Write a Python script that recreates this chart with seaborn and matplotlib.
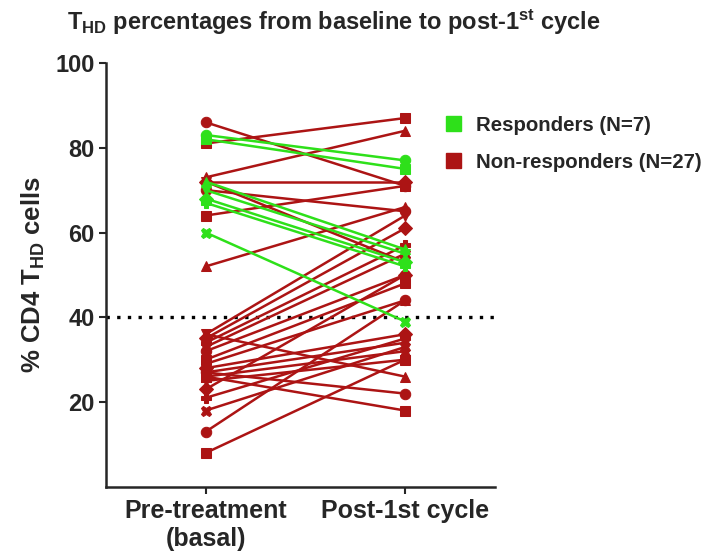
import numpy as np
import pandas as pd
import matplotlib
matplotlib.use("Agg")
import matplotlib.pyplot as plt
import seaborn as sns
from matplotlib.patches import Patch

sns.set_style("ticks")
plt.rcParams['font.family'] = ['Liberation Sans', 'DejaVu Sans']
plt.rcParams['mathtext.fontset'] = 'custom'
plt.rcParams['mathtext.rm'] = 'Liberation Sans:bold'
plt.rcParams['mathtext.it'] = 'Liberation Sans:bold'
plt.rcParams['mathtext.bf'] = 'Liberation Sans:bold'
plt.rcParams['mathtext.default'] = 'rm'

timepoints = ["Pre-treatment\n(basal)", "Post-1st cycle"]

resp_pre = [83, 82, 72, 70, 68, 67, 60]
resp_post = [77, 75, 56, 55, 53, 52, 39]

nonresp_pre = [86, 81, 73, 72, 72, 70, 64, 52, 36, 35, 34, 33, 32, 30,
               29, 28, 27, 27, 26, 26, 25, 23, 21, 18, 13, 8, 36]
nonresp_post = [71, 87, 84, 72, 53, 65, 71, 66, 64, 61, 57, 55, 50, 48,
                44, 36, 34, 22, 18, 32, 30, 50, 35, 33, 44, 30, 26]

threshold = 40
green = "#2ee01a"
red = "#ac1414"

rows = []
sid = 0
for pre, post in zip(resp_pre, resp_post):
    rows.append(dict(subject=sid, time=0, value=pre, group="Responders (N=7)"))
    rows.append(dict(subject=sid, time=1, value=post, group="Responders (N=7)"))
    sid += 1
for pre, post in zip(nonresp_pre, nonresp_post):
    rows.append(dict(subject=sid, time=0, value=pre, group="Non-responders (N=27)"))
    rows.append(dict(subject=sid, time=1, value=post, group="Non-responders (N=27)"))
    sid += 1
df = pd.DataFrame(rows)

marker_cycle = ['o', 's', '^', 'v', 'D', 'P', 'X', 'o', 's', '^', 'D', 'v']
markers = {s: marker_cycle[s % len(marker_cycle)] for s in df.subject.unique()}

fig = plt.figure(figsize=(7.06, 5.52), dpi=100)
ax = fig.add_axes([0.150, 0.118, 0.551, 0.768])

ax.axhline(threshold, color="black", linestyle=(0, (1, 2.2)), linewidth=2.4, zorder=1)

# non-responders first, responders drawn on top
sns.lineplot(data=df[df.group.str.startswith("Non")], x="time", y="value",
             units="subject", estimator=None, hue="group",
             palette={"Non-responders (N=27)": red},
             style="subject", markers=markers, dashes=False,
             markersize=7.5, markeredgecolor=red, linewidth=1.8,
             legend=False, ax=ax, zorder=2)
sns.lineplot(data=df[df.group.str.startswith("Resp")], x="time", y="value",
             units="subject", estimator=None, hue="group",
             palette={"Responders (N=7)": green},
             style="subject", markers=markers, dashes=False,
             markersize=7.5, markeredgecolor=green, linewidth=1.8,
             legend=False, ax=ax, zorder=3)

ax.set_xlim(-0.5, 1.45)
ax.set_ylim(0, 100)
ax.set_yticks([20, 40, 60, 80, 100])
ax.set_xticks([0, 1])
ax.set_xticklabels(timepoints, fontsize=18, fontweight='bold')
ax.tick_params(axis='y', labelsize=17, width=1.5, length=5, pad=3)
ax.tick_params(axis='x', width=1.5, length=5, pad=4)
for lab in ax.get_yticklabels():
    lab.set_fontweight('bold')
ax.set_xlabel("")
ax.set_ylabel(r"% CD4 T$_{HD}$ cells", fontsize=18.5, fontweight='bold', labelpad=6)
for sp in ['top', 'right']:
    ax.spines[sp].set_visible(False)
for sp in ['left', 'bottom']:
    ax.spines[sp].set_linewidth(1.8)

handles = [Patch(facecolor=green, edgecolor=green, label="Responders (N=7)"),
           Patch(facecolor=red, edgecolor=red, label="Non-responders (N=27)")]
leg = fig.legend(handles=handles, loc='upper left', bbox_to_anchor=(0.605, 0.824),
                 frameon=False, fontsize=14.7, handlelength=0.75, handleheight=0.75,
                 labelspacing=0.9, handletextpad=0.75)
for t in leg.get_texts():
    t.set_fontweight('bold')

fig.text(0.473, 0.96, r"T$_{HD}$ percentages from baseline to post-1$^{st}$ cycle",
         ha='center', va='center', fontsize=17, fontweight='bold')

fig.savefig("out.png", dpi=100)
